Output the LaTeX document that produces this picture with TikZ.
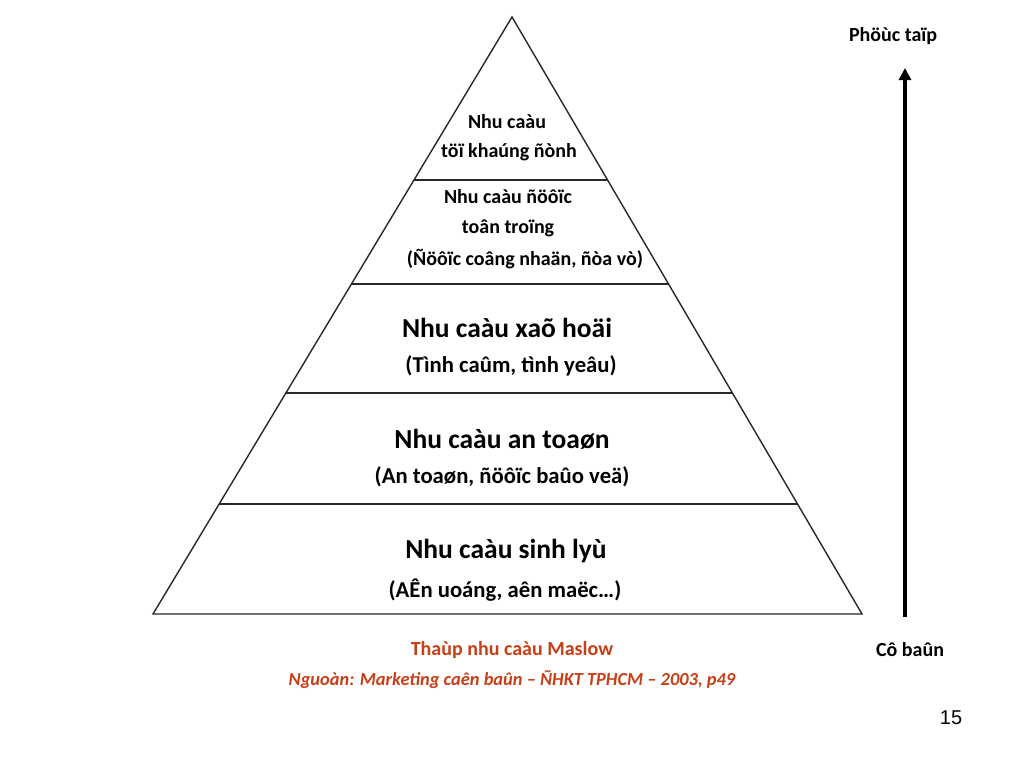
\documentclass[tikz,border=0pt]{standalone}
\usepackage{fontspec}
\setmainfont{Carlito}
\newfontfamily\numfont{Liberation Sans}
\usetikzlibrary{calc,arrows.meta}
\definecolor{titlered}{RGB}{200,62,22}
\definecolor{edgegray}{RGB}{40,40,40}
\begin{document}
\begin{tikzpicture}[x=1pt,y=-1pt,
    level/.style ={font=\bfseries\fontsize{20}{24}\selectfont, align=center, inner sep=0pt},
    biglevel/.style ={font=\bfseries\fontsize{27.5}{32}\selectfont, inner sep=0pt},
    sublevel/.style ={font=\bfseries\fontsize{22.7}{27}\selectfont, inner sep=0pt},
    side/.style ={font=\bfseries\fontsize{20}{24}\selectfont, inner sep=0pt},
    edge/.style ={edgegray, line width=1.4pt}]
   \useasboundingbox (0,0) rectangle (1024,768);

   % pyramid corners
   \coordinate (apex) at (512,17);
   \coordinate (bl) at (153,614);
   \coordinate (br) at (862,614);
   \draw[edge,line join=miter] (apex) -- (bl) -- (br) -- cycle;

   % layer borders
   \foreach \t/\n in {0.273/a,0.447/b,0.630/c,0.816/d}
      \draw[edge] ($(apex)!\t!(bl)$) coordinate (l\n) -- ($(apex)!\t!(br)$) coordinate (r\n);

   % texts of the layers
   \node[level] (top1) at (507,122) {Nhu caàu};
   \node[level] (top2) at (509,152) {töï khaúng ñònh};
   \node[level] (esteem1) at (508,197) {Nhu caàu ñöôïc};
   \node[level] (esteem2) at (508,228) {toân troïng};
   \node[level] (esteem3) at (525,259) {(Ñöôïc coâng nhaän, ñòa vò)};
   \node[biglevel] (social1) at (507,328) {Nhu caàu xaõ hoäi};
   \node[sublevel] (social2) at (511,366) {(Tình caûm, tình yeâu)};
   \node[biglevel] (safety1) at (502,439) {Nhu caàu an toaøn};
   \node[sublevel] (safety2) at (502,477) {(An toaøn, ñöôïc baûo veä)};
   \node[biglevel] (body1) at (506,551) {Nhu caàu sinh lyù};
   \node[sublevel] (body2) at (505,590) {(AÊn uoáng, aên maëc\ldots)};

   % caption
   \node[side,titlered] (title) at (512,650) {Thaùp nhu caàu Maslow};
   \node[side,titlered,font=\bfseries\itshape\fontsize{18.4}{22}\selectfont] (source) at (512,680)
      {Nguoàn: Marketing caên baûn -- ÑHKT TPHCM -- 2003, p49};

   % arrow
   \node[side] (complex) at (893,36) {Phöùc taïp};
   \node[side] (basic) at (910,650) {Cô baûn};
   \coordinate (low) at (905,617);
   \coordinate (high) at (905,68);
   \draw[line width=3.8pt,-{Triangle[length=12pt,width=12pt]}] (low) -- (high);

   \node[font=\numfont\fontsize{20}{24}\selectfont, inner sep=0pt] (page) at (951,718) {15};
\end{tikzpicture}
\end{document}
